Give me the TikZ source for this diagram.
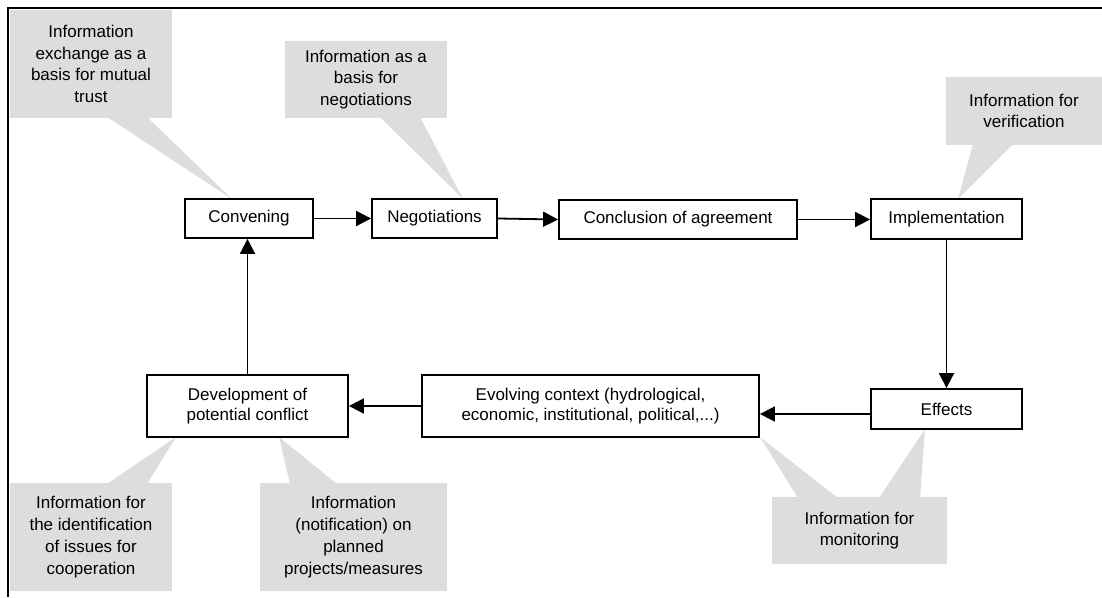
\documentclass[tikz,border=0pt]{standalone}
\usepackage{fontspec}
\setmainfont{Liberation Sans}
\usetikzlibrary{arrows.meta}
\definecolor{callgray}{HTML}{DDDDDD}
\tikzset{
  box/.style={draw=black, line width=1.8pt, fill=white, align=center, inner sep=2pt,
    font=\fontsize{17}{20}\selectfont},
  callout/.style={fill=callgray, align=center, inner sep=0pt,
    font=\fontsize{17}{21.8}\selectfont},
  flow/.style={line width=1.8pt, -{Triangle[length=15pt,width=15pt]}},
  pointer/.style={fill=callgray, draw=none},
}
\begin{document}
\begin{tikzpicture}[x=1pt,y=-1pt]
\useasboundingbox (0,0) rectangle (1102,597);
% frame
\draw[line width=2pt] (1102,8) -- (8,8) -- (8,597);

% callouts
\node[callout, minimum width=162pt, minimum height=108pt] (c1) at (91,64) {Information\\exchange as a\\basis for mutual\\trust};
\node[callout, minimum width=162pt, minimum height=77pt] (c2) at (366,79.5) {Information as a\\basis for\\negotiations};
\node[callout, minimum width=156pt, minimum height=68pt] (c3) at (1024,111) {Information for\\verification};
\node[callout, minimum width=162pt, minimum height=108pt] (c4) at (91,537) {Information for\\the identification\\of issues for\\cooperation};
\node[callout, minimum width=187pt, minimum height=108pt] (c5) at (353.5,537) {Information\\(notification) on\\planned\\projects/measures};
\node[callout, minimum width=175pt, minimum height=67pt] (c6) at (859.5,530.5) {Information for\\monitoring};

% pointers
\fill[pointer] (107,117) -- (232,199) -- (147,117) -- cycle;
\fill[pointer] (380,117) -- (463,199) -- (420,117) -- cycle;
\fill[pointer] (973,144) -- (958,199) -- (1013,144) -- cycle;
\fill[pointer] (107,484) -- (176,437) -- (147,484) -- cycle;
\fill[pointer] (290,484) -- (279,437) -- (337,484) -- cycle;
\fill[pointer] (798,498) -- (760,437) -- (838,498) -- cycle;
\fill[pointer] (879,498) -- (925,429) -- (920,498) -- cycle;

% boxes
\node[box, minimum width=128pt, minimum height=39pt] (conv) at (249,218.5) {Convening};
\node[box, minimum width=125pt, minimum height=39pt] (nego) at (434.5,218.5) {Negotiations};
\node[box, minimum width=238pt, minimum height=39pt] (concl) at (678,219.5) {Conclusion of agreement};
\node[box, minimum width=151pt, minimum height=40pt] (impl) at (946.5,219) {Implementation};
\node[box, minimum width=151pt, minimum height=40pt] (eff) at (946.5,409) {Effects};
\node[box, minimum width=337pt, minimum height=62pt] (evol) at (590.5,406) {Evolving context (hydrological,\\economic, institutional, political,...)};
\node[box, minimum width=201pt, minimum height=62pt] (dev) at (247.5,406) {Development of\\potential conflict};

% connectors
\draw[flow] (conv.east) -- (nego.west);
\draw[flow] (nego.east) -- (concl.west);
\draw[flow] (concl.east) -- (impl.west |- concl.east);
\draw[flow] (impl.south) -- (eff.north);
\draw[flow] ([yshift=-5pt]eff.west) -- ([yshift=-5pt]eff.west -| evol.east);
\draw[flow] (evol.west) -- (dev.east);
\draw[flow] (dev.north) -- (dev.north |- conv.south);
\end{tikzpicture}
\end{document}
